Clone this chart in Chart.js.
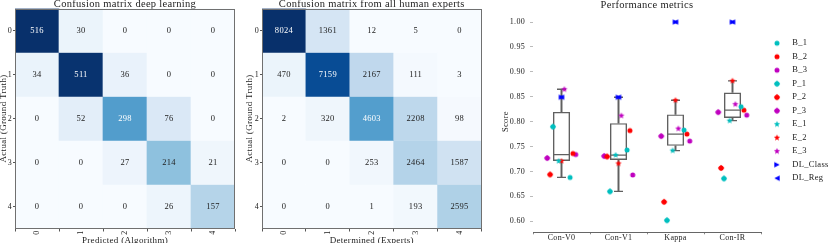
<!DOCTYPE html>
<html><head><meta charset="utf-8">
<script src="https://cdn.jsdelivr.net/npm/chart.js"></script>
<style>
html,body{margin:0;padding:0;background:#fff;overflow:hidden;width:830px;height:243px;}
canvas{position:absolute;top:0;}
</style></head><body>
<canvas id="c1" width="245" height="250" style="left:0px"></canvas>
<canvas id="c2" width="250" height="250" style="left:240px"></canvas>
<canvas id="c3" width="340" height="243" style="left:490px"></canvas>
<script>
// ---------------- DATA ----------------
const classLabels = ['0','1','2','3','4'];
const dlMatrix = [
  [516, 30,   0,   0,   0],
  [ 34, 511, 36,   0,   0],
  [  0, 52, 298,  76,   0],
  [  0,  0,  27, 214,  21],
  [  0,  0,   0,  26, 157]
];
const expertMatrix = [
  [8024, 1361,   12,    5,    0],
  [ 470, 7159, 2167,  111,    3],
  [   2,  320, 4603, 2208,   98],
  [   0,    0,  253, 2464, 1587],
  [   0,    0,    1,  193, 2595]
];
const metricCategories = ['Con-V0', 'Con-V1', 'Kappa', 'Con-IR'];
const B_1      = [0.688, 0.743, 0.783, 0.830];
const B_2      = [0.736, 0.782, 0.775, 0.823];
const B_3      = [0.734, 0.693, 0.761, 0.813];
const P_1      = [0.790, 0.660, 0.602, 0.686];
const P_2      = [0.694, 0.730, 0.639, 0.707];
const P_3      = [0.727, 0.731, 0.771, 0.819];
const E_1      = [0.721, 0.733, 0.742, 0.802];
const E_2      = [0.721, 0.716, 0.843, 0.882];
const E_3      = [0.865, 0.812, 0.786, 0.835];
const DL_Class = [0.849, 0.849, 1.000, 1.000];
const DL_Reg   = [0.849, 0.849, 1.000, 1.000];
const scoreTickStep = 0.05;

// ---------------- STYLE ----------------
const SERIF = '"Liberation Serif", "DejaVu Serif", serif';
const TXT = '#222';
const spacingPlugin = {
  id: 'spacing',
  beforeInit(c){ c.ctx.letterSpacing = '0.3px'; },
  beforeUpdate(c){ c.ctx.letterSpacing = '0.3px'; },
  beforeDraw(c){ c.ctx.letterSpacing = '0.3px'; }
};

const BLUES = ['#f7fbff','#deebf7','#c6dbef','#9ecae1','#6baed6','#4292c6','#2171b5','#08519c','#08306b'];
function hexRgb(h){ return [1,3,5].map(i => parseInt(h.substr(i,2),16)); }
function blues(t){
  t = Math.max(0, Math.min(1, t));
  const p = t * 8, i = Math.min(7, Math.floor(p)), f = p - i;
  const a = hexRgb(BLUES[i]), b = hexRgb(BLUES[i+1]);
  const c = a.map((v,k) => Math.round(v + (b[k]-v)*f));
  return `rgb(${c[0]},${c[1]},${c[2]})`;
}

const cellText = {
  id: 'cellText',
  afterDatasetsDraw(chart){
    const ctx = chart.ctx;
    const max = Math.max(...chart.data.datasets.flatMap(d => d.counts));
    ctx.save();
    ctx.font = `8.5px ${SERIF}`;
    ctx.textAlign = 'center';
    ctx.textBaseline = 'middle';
    chart.data.datasets.forEach((ds, r) => {
      chart.getDatasetMeta(r).data.forEach((bar, c) => {
        const v = ds.counts[c];
        const {x, y, base} = bar.getProps(['x','y','base'], true);
        ctx.fillStyle = v > max / 2 ? '#ffffff' : TXT;
        ctx.fillText(String(v), x, (y + base) / 2 + 0.5);
      });
    });
    ctx.restore();
  }
};
const frame = {
  id: 'frame',
  afterDraw(chart){
    const a = chart.chartArea, ctx = chart.ctx;
    ctx.save();
    ctx.strokeStyle = '#707070';
    ctx.lineWidth = 1;
    ctx.strokeRect(Math.round(a.left)+0.5, Math.round(a.top)+0.5, Math.round(a.right-a.left)-1, Math.round(a.bottom-a.top)-1);
    ctx.restore();
  }
};

function heatmap(id, matrix, o){
  const max = Math.max(...matrix.flat());
  const datasets = matrix.map((row, r) => ({
    label: 'Actual ' + classLabels[r],
    data: row.map(() => 1),
    counts: row,
    backgroundColor: row.map(v => blues(v / max)),
    borderWidth: 0,
    barPercentage: 1,
    categoryPercentage: 1,
    stack: 'cells'
  }));
  return new Chart(document.getElementById(id), {
    type: 'bar',
    data: { labels: classLabels, datasets },
    options: {
      responsive: false, animation: false, devicePixelRatio: 1,
      layout: { padding: { left: 0, right: o.padRight, top: 0, bottom: 0 } },
      plugins: {
        legend: { display: false },
        tooltip: { enabled: false },
        title: { display: true, text: o.title, fullSize: false, padding: 0, color: TXT,
                 font: { family: SERIF, size: 10.5, weight: 'normal', lineHeight: '8.5px' } }
      },
      scales: {
        x: {
          stacked: true,
          grid: { display: true, drawOnChartArea: false, tickLength: 3, color: '#555' },
          border: { display: false },
          ticks: { minRotation: 90, maxRotation: 90, padding: -1, color: TXT, font: { family: SERIF, size: 8 } },
          title: { display: true, text: o.xTitle, color: TXT, padding: { top: 0, bottom: 4 }, font: { family: SERIF, size: 9 } },
          afterFit: s => { s.height = 21.5; }
        },
        y: {
          stacked: true, reverse: true, min: 0, max: classLabels.length,
          afterBuildTicks: s => { s.ticks = classLabels.map((_, i) => ({ value: i + 0.5 })); },
          grid: { display: true, drawOnChartArea: false, tickLength: 2, color: '#555' },
          border: { display: false },
          ticks: { callback: (v, i) => classLabels[i], padding: 1, color: TXT, font: { family: SERIF, size: 8 } },
          title: { display: true, text: 'Actual (Ground Truth)', color: TXT, padding: { top: o.yTitlePad, bottom: 0 }, font: { family: SERIF, size: 9 } },
          afterFit: s => { s.width = o.yWidth; }
        }
      }
    },
    plugins: [spacingPlugin, cellText, frame]
  });
}

heatmap('c1', dlMatrix, { title: 'Confusion matrix deep learning', xTitle: 'Predicted (Algorithm)', yWidth: 15, yTitlePad: -1.9, padRight: 10 });
heatmap('c2', expertMatrix, { title: 'Confusion matrix from all human experts', xTitle: 'Determined (Experts)', yWidth: 22, yTitlePad: 4.6, padRight: 8.5 });

// ---------------- PERFORMANCE METRICS ----------------
function marker(shape, color){
  const c = document.createElement('canvas');
  c.width = c.height = 10;
  const g = c.getContext('2d');
  const m = 5;
  g.fillStyle = color;
  g.beginPath();
  if (shape === 'circle') {
    g.arc(m, m, 2.5, 0, Math.PI*2);
  } else if (shape === 'blob') {
    g.moveTo(m, m-3.3); g.lineTo(m+3.3, m); g.lineTo(m, m+3.3); g.lineTo(m-3.3, m); g.closePath();
    g.moveTo(m+2.6, m); g.arc(m, m, 2.6, 0, Math.PI*2);
  } else if (shape === 'star') {
    for (let k = 0; k < 10; k++) {
      const r = k % 2 ? 1.4 : 3.3;
      const a = -Math.PI/2 + k * Math.PI/5;
      const px = m + r*Math.cos(a), py = m + r*Math.sin(a);
      k ? g.lineTo(px, py) : g.moveTo(px, py);
    }
    g.closePath();
  } else if (shape === 'right') {
    g.moveTo(m+2.7, m); g.lineTo(m-2.7, m-2.7); g.lineTo(m-2.7, m+2.7); g.closePath();
  } else if (shape === 'left') {
    g.moveTo(m-2.7, m); g.lineTo(m+2.7, m-2.7); g.lineTo(m+2.7, m+2.7); g.closePath();
  }
  g.fill('nonzero');
  return c;
}
const CYAN = '#00bfbf', RED = '#ff0000', MAG = '#bf00bf', BLUE = '#0000ff';
const pointSeries = [
  { label: 'B_1', values: B_1, color: CYAN, shape: 'circle', off: 0.15 },
  { label: 'B_2', values: B_2, color: RED,  shape: 'circle', off: 0.20 },
  { label: 'B_3', values: B_3, color: MAG,  shape: 'circle', off: 0.25 },
  { label: 'P_1', values: P_1, color: CYAN, shape: 'blob',   off: -0.15 },
  { label: 'P_2', values: P_2, color: RED,  shape: 'blob',   off: -0.20 },
  { label: 'P_3', values: P_3, color: MAG,  shape: 'blob',   off: -0.25 },
  { label: 'E_1', values: E_1, color: CYAN, shape: 'star',   off: -0.05 },
  { label: 'E_2', values: E_2, color: RED,  shape: 'star',   off: 0.00 },
  { label: 'E_3', values: E_3, color: MAG,  shape: 'star',   off: 0.05 },
  { label: 'DL_Class', values: DL_Class, color: BLUE, shape: 'right', off: 0 },
  { label: 'DL_Reg',   values: DL_Reg,   color: BLUE, shape: 'left',  off: 0 }
];

function quantile(sorted, q){
  const pos = (sorted.length - 1) * q, lo = Math.floor(pos), hi = Math.ceil(pos);
  return sorted[lo] + (sorted[hi] - sorted[lo]) * (pos - lo);
}
const boxStats = metricCategories.map((_, i) => {
  const vals = pointSeries.map(s => s.values[i]).sort((a,b) => a-b);
  const q1 = quantile(vals, 0.25), med = quantile(vals, 0.5), q3 = quantile(vals, 0.75);
  const iqr = q3 - q1;
  const lo = Math.min(...vals.filter(v => v >= q1 - 1.5*iqr));
  const hi = Math.max(...vals.filter(v => v <= q3 + 1.5*iqr));
  return { q1, med, q3, lo, hi };
});

const BOXC = '#606060';
const pointDatasets = pointSeries.map(s => ({
  type: 'scatter',
  label: s.label,
  xAxisID: 'xs',
  data: s.values.map((v, i) => ({ x: i + s.off, y: v })),
  pointStyle: marker(s.shape, s.color),
  pointRadius: 3,
  backgroundColor: s.color,
  borderColor: s.color
}));
const boxDatasets = [
  { type: 'bar', label: 'box', xAxisID: 'x', data: boxStats.map(s => [s.q1, s.q3]),
    backgroundColor: 'rgba(0,0,0,0)', borderColor: BOXC, borderWidth: 1.4, borderSkipped: false,
    barPercentage: 0.3, categoryPercentage: 1, grouped: false },
  { type: 'bar', label: 'wlo', xAxisID: 'x', data: boxStats.map(s => [s.lo, s.q1]),
    backgroundColor: BOXC, borderWidth: 0, barThickness: 1.3, grouped: false },
  { type: 'bar', label: 'whi', xAxisID: 'x', data: boxStats.map(s => [s.q3, s.hi]),
    backgroundColor: BOXC, borderWidth: 0, barThickness: 1.3, grouped: false },
  { type: 'line', label: 'median', xAxisID: 'x', data: boxStats.map(s => s.med), showLine: false,
    pointStyle: 'line', pointRadius: 8.5, pointBorderColor: BOXC, pointBorderWidth: 1.3 },
  { type: 'line', label: 'capLo', xAxisID: 'x', data: boxStats.map(s => s.lo), showLine: false,
    pointStyle: 'line', pointRadius: 4.5, pointBorderColor: BOXC, pointBorderWidth: 1.3 },
  { type: 'line', label: 'capHi', xAxisID: 'x', data: boxStats.map(s => s.hi), showLine: false,
    pointStyle: 'line', pointRadius: 4.5, pointBorderColor: BOXC, pointBorderWidth: 1.3 }
];

new Chart(document.getElementById('c3'), {
  type: 'bar',
  data: { labels: metricCategories, datasets: [...pointDatasets, ...boxDatasets] },
  options: {
    responsive: false, animation: false, devicePixelRatio: 1,
    layout: { padding: 0 },
    plugins: {
      tooltip: { enabled: false },
      title: { display: true, text: 'Performance metrics', fullSize: false, padding: 0, color: TXT,
               font: { family: SERIF, size: 10.5, weight: 'normal', lineHeight: '11px' } },
      legend: {
        position: 'right', align: 'start', maxWidth: 69,
        title: { display: true, text: '', padding: { top: 22, bottom: 0 }, font: { size: 10 } },
        labels: {
          usePointStyle: true, pointStyleWidth: 22, padding: 5, color: TXT,
          font: { family: SERIF, size: 8.5 },
          filter: item => item.datasetIndex < pointSeries.length
        }
      }
    },
    scales: {
      x: {
        type: 'category', offset: true,
        grid: { display: true, drawOnChartArea: false, tickLength: 2, color: '#888' },
        border: { display: true, color: '#666', width: 1 },
        ticks: { padding: -1, color: TXT, font: { family: SERIF, size: 8 } },
        afterFit: s => { s.height = 10.7; }
      },
      xs: { type: 'linear', display: false, offset: false, bounds: 'ticks',
            min: -0.5, max: metricCategories.length - 0.5 },
      y: {
        min: 0.5779, max: 1.0221,
        grid: { display: true, drawOnChartArea: false, tickLength: 3, color: '#bbb' },
        border: { display: false },
        ticks: { stepSize: scoreTickStep, includeBounds: false, callback: v => v.toFixed(2), padding: 5, color: TXT,
                 font: { family: SERIF, size: 8 } },
        title: { display: true, text: 'Score', color: TXT, padding: { top: 11, bottom: 0 }, font: { family: SERIF, size: 8.5 } },
        afterFit: s => { s.width = 43; }
      }
    }
  },
  plugins: [spacingPlugin]
});
</script>
</body></html>
